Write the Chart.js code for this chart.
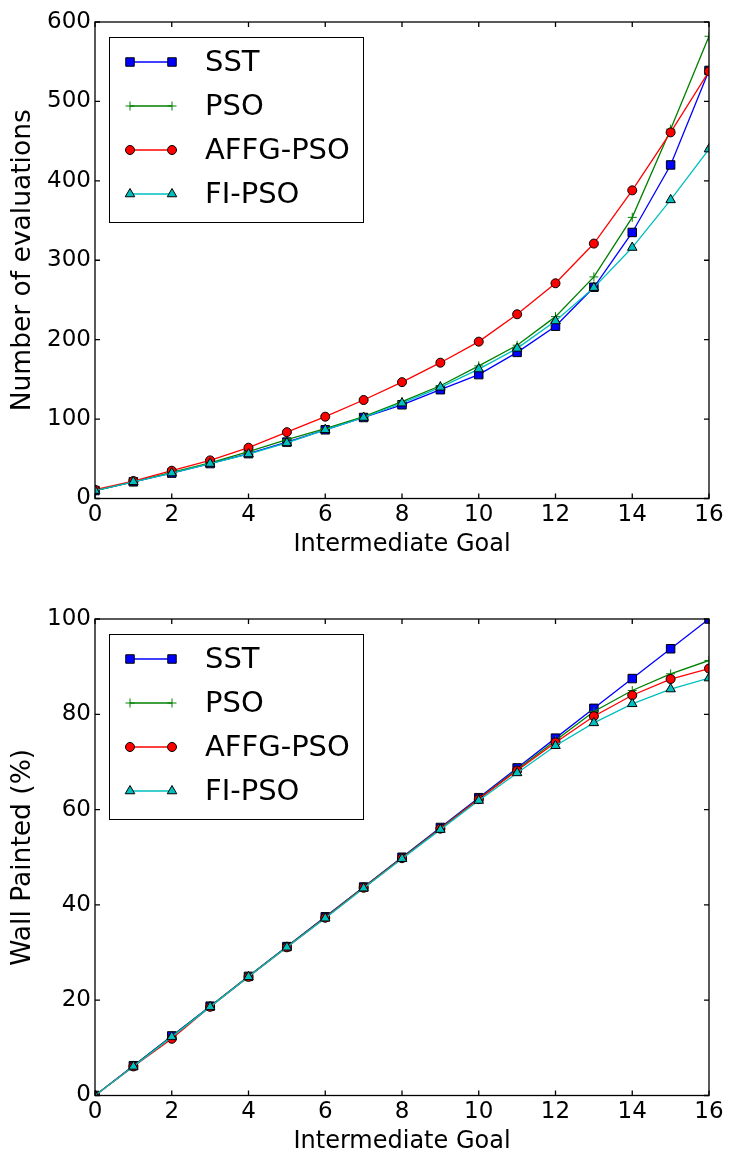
<!DOCTYPE html>
<html>
<head>
<meta charset="utf-8">
<title>Intermediate goals</title>
<script src="https://cdn.jsdelivr.net/npm/chart.js@4.4.1/dist/chart.umd.min.js"></script>
<style>
  html, body { margin: 0; padding: 0; background: #fff; }
  body { width: 729px; height: 1157px; position: relative; overflow: hidden; }
  canvas { position: absolute; left: 0; }
  #evalChart { top: 0; }
  #paintChart { top: 597px; }
</style>
</head>
<body>
<canvas id="evalChart" width="729" height="560"></canvas>
<canvas id="paintChart" width="729" height="560"></canvas>
<script>
// intermediate goal index (x axis of both plots)
const goals = [0, 1, 2, 3, 4, 5, 6, 7, 8, 9, 10, 11, 12, 13, 14, 15, 16];
const methods = ['SST', 'PSO', 'AFFG-PSO', 'FI-PSO'];

// number of evaluations per goal
const evalSST  = [10, 21, 32, 44, 56.5, 71, 86.5, 102, 118, 137, 156, 184, 217, 266, 335, 420, 539];
const evalPSO  = [10, 21, 33, 45, 59, 74, 88, 103, 122, 142, 167, 193, 229, 279, 354, 465, 582];
const evalAFFG = [11, 22, 35, 48, 64, 83.5, 103, 124, 146.5, 171, 197.5, 232, 271, 321, 388, 461, 538];
const evalFI   = [10, 21, 32, 44, 56, 70, 86.5, 102, 120, 140, 163, 189, 223.5, 265.5, 316, 376, 440];

// wall painted (%) per goal
const wallSST  = [0, 6.25, 12.5, 18.75, 25, 31.25, 37.5, 43.75, 50, 56.25, 62.5, 68.75, 75, 81.25, 87.5, 93.75, 100];
const wallPSO  = [0, 6.2, 12.4, 18.7, 25, 31.2, 37.4, 43.7, 49.9, 56.1, 62.3, 68.4, 74.5, 80.6, 85, 88.5, 91.3];
const wallAFFG = [0, 6.1, 11.9, 18.6, 24.9, 31.1, 37.3, 43.6, 49.8, 56, 62.2, 68.2, 74.1, 79.6, 84, 87.4, 89.6];
const wallFI   = [0, 6.1, 12.3, 18.6, 24.9, 31.1, 37.2, 43.5, 49.7, 55.8, 61.9, 67.7, 73.4, 78.2, 82.2, 85.3, 87.6];

const evalTicks = { max: 600, step: 100 };
const wallTicks = { max: 100, step: 20 };

Chart.defaults.font.family = '"DejaVu Sans", sans-serif';
Chart.defaults.color = '#000';

const TICK_LEN = 5;

// line colour, marker shape/size per method
const styles = [
  { color: '#0000ff', fill: '#0000ff', edge: '#000', shape: 'rect', r: 6 },
  { color: '#008000', fill: '#008000', edge: '#008000', shape: 'cross', r: 4.5 },
  { color: '#ff0000', fill: '#ff0000', edge: '#000', shape: 'circle', r: 4.5 },
  { color: '#00bfbf', fill: '#00bfbf', edge: '#000', shape: 'triangle', r: 5.5 }
];

function makeDatasets(series) {
  return series.map((vals, i) => ({
    label: methods[i],
    data: goals.map((g, k) => ({ x: g, y: vals[k] })),
    borderColor: styles[i].color,
    borderWidth: 1.3,
    pointStyle: styles[i].shape,
    pointRadius: styles[i].r,
    pointBackgroundColor: styles[i].fill,
    pointBorderColor: styles[i].edge,
    pointBorderWidth: 1,
    tension: 0,
    clip: 0,
    order: series.length - i   // last series ends up on top
  }));
}

// box frame with inward ticks on all four sides
const frameTicks = {
  id: 'frameTicks',
  afterDatasetsDraw(chart) {
    const { ctx, chartArea: a, scales: { x, y } } = chart;
    ctx.save();
    ctx.strokeStyle = '#000';
    ctx.lineWidth = 1.3;
    ctx.strokeRect(a.left, a.top, a.right - a.left, a.bottom - a.top);
    ctx.beginPath();
    x.ticks.forEach(t => {
      const px = x.getPixelForValue(t.value);
      ctx.moveTo(px, a.bottom); ctx.lineTo(px, a.bottom - TICK_LEN);
      ctx.moveTo(px, a.top); ctx.lineTo(px, a.top + TICK_LEN);
    });
    y.ticks.forEach(t => {
      const py = y.getPixelForValue(t.value);
      ctx.moveTo(a.left, py); ctx.lineTo(a.left + TICK_LEN, py);
      ctx.moveTo(a.right, py); ctx.lineTo(a.right - TICK_LEN, py);
    });
    ctx.stroke();
    ctx.restore();
  }
};

// legend in the upper left corner: line sample with a marker at each end
const boxLegend = {
  id: 'boxLegend',
  afterDraw(chart) {
    const { ctx, chartArea: a } = chart;
    const left = Math.round(a.left + 14), top = Math.round(a.top + 15);
    const w = 254, h = 185;
    ctx.save();
    ctx.fillStyle = '#fff';
    ctx.fillRect(left, top, w, h);
    ctx.strokeStyle = '#000';
    ctx.lineWidth = 1;
    ctx.strokeRect(left + 0.5, top + 0.5, w, h);
    chart.data.datasets.forEach((ds, i) => {
      const cy = top + 25 + i * 44;
      const x0 = left + 21, x1 = left + 63;
      ctx.strokeStyle = ds.borderColor;
      ctx.lineWidth = ds.borderWidth;
      ctx.beginPath();
      ctx.moveTo(x0, cy);
      ctx.lineTo(x1, cy);
      ctx.stroke();
      [x0, x1].forEach(px => {
        ctx.fillStyle = ds.pointBackgroundColor;
        ctx.strokeStyle = ds.pointBorderColor;
        ctx.lineWidth = ds.pointBorderWidth;
        Chart.helpers.drawPoint(ctx, {
          pointStyle: ds.pointStyle, radius: ds.pointRadius,
          borderWidth: ds.pointBorderWidth, rotation: 0
        }, px, cy);
      });
      ctx.fillStyle = '#000';
      ctx.font = '29px "DejaVu Sans"';
      ctx.textAlign = 'left';
      ctx.textBaseline = 'middle';
      ctx.fillText(ds.label, left + 96, cy + 1);
    });
    ctx.restore();
  }
};

function makeScales(ticks, yTitle) {
  return {
    x: {
      type: 'linear',
      min: 0,
      max: 16,
      ticks: { stepSize: 2, padding: 3, maxRotation: 0, font: { size: 23 } },
      grid: { display: false, drawTicks: false },
      border: { display: false },
      title: { display: true, text: 'Intermediate Goal', font: { size: 24 }, padding: { top: 0, bottom: 1 } },
      afterFit(s) { s.height = 61.5; }
    },
    y: {
      type: 'linear',
      min: 0,
      max: ticks.max,
      ticks: { stepSize: ticks.step, padding: 4, font: { size: 23 } },
      grid: { display: false, drawTicks: false },
      border: { display: false },
      title: { display: true, text: yTitle, font: { size: 26.5 }, padding: { top: 7, bottom: 0 } },
      afterFit(s) { s.width = 95; }
    }
  };
}

function makeChart(id, series, ticks, yTitle) {
  return new Chart(document.getElementById(id), {
    type: 'line',
    data: { datasets: makeDatasets(series) },
    options: {
      responsive: false,
      animation: false,
      events: [],
      layout: { padding: { top: 22, right: 20, left: 0, bottom: 0 } },
      plugins: { legend: { display: false }, tooltip: { enabled: false } },
      scales: makeScales(ticks, yTitle)
    },
    plugins: [frameTicks, boxLegend]
  });
}

makeChart('evalChart', [evalSST, evalPSO, evalAFFG, evalFI], evalTicks, 'Number of evaluations');
makeChart('paintChart', [wallSST, wallPSO, wallAFFG, wallFI], wallTicks, 'Wall Painted (%)');
</script>
</body>
</html>
